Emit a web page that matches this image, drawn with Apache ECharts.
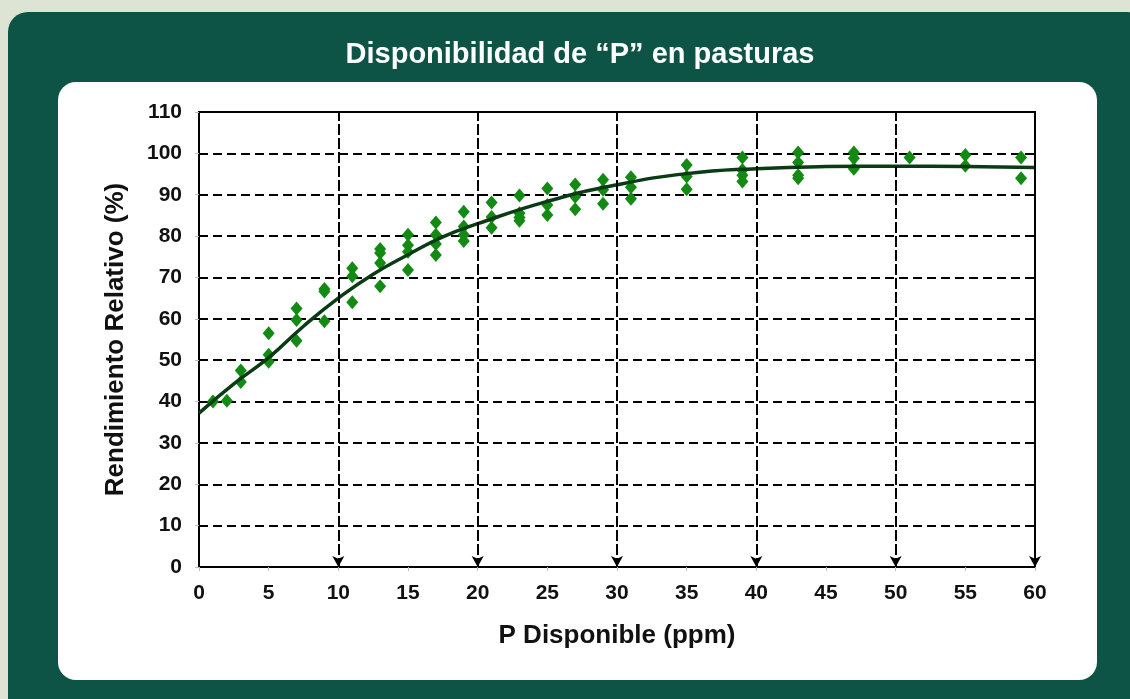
<!DOCTYPE html>
<html>
<head>
    <meta charset="utf-8" />
    <title>Disponibilidad de P</title>
    <script src="https://cdn.jsdelivr.net/npm/echarts@6/dist/echarts.min.js"></script>
    <style>
        body { margin: 0; background: #dde4d4; font-family: "Liberation Sans", Arial, sans-serif; }
        #panel { position: absolute; left: 8px; top: 12px; width: 1140px; height: 720px; background: #0d5446; border-radius: 20px; }
        #card { position: absolute; left: 58px; top: 82px; width: 1039px; height: 598px; background: #fff; border-radius: 18px; }
        #main { position: absolute; left: 0; top: 0; width: 1130px; height: 699px; }
    </style>
</head>
<body>
    <div id="panel"></div>
    <div id="card"></div>
    <div id="main"></div>

    <script type="text/javascript">
        // puntos medidos: P disponible (ppm) y rendimiento relativo (%)
        var puntosP = [
            1, 2, 3, 3, 5, 5, 5, 7, 7, 7, 9, 9, 9, 11, 11, 11,
            13, 13, 13, 13, 15, 15, 15, 15, 17, 17, 17, 17, 19, 19, 19, 19,
            21, 21, 21, 23, 23, 23, 23, 25, 25, 25, 27, 27, 27, 29, 29, 29,
            31, 31, 31, 35, 35, 35, 39, 39, 39, 39, 43, 43, 43, 43,
            47, 47, 47, 51, 55, 55, 59, 59
        ];
        var puntosRend = [
            40, 40.2, 47.5, 44.7, 56.5, 51.3, 49.6, 62.5, 59.7, 54.7, 67.2, 66.6, 59.4, 72.2, 70.3, 64,
            76.9, 75.9, 73.5, 67.9, 80.3, 77.8, 76.2, 71.8, 83.3, 80.3, 78.1, 75.4, 85.9, 82.3, 80.3, 78.8,
            88.1, 84.6, 82, 89.8, 85.5, 84.5, 83.7, 91.5, 87.5, 85.1, 92.5, 89.5, 86.5, 93.6, 91.2, 87.8,
            94.2, 91.8, 89, 97.2, 94.4, 91.3, 99, 96, 94.7, 93.2, 100.2, 97.8, 94.7, 94,
            100.2, 98.8, 96.3, 99, 99.6, 97, 99, 94
        ];

        // curva de ajuste
        var curvaP = [0, 2.5, 5, 7.5, 10, 12.5, 15, 17.5, 20, 25, 30, 35, 40, 45, 50, 55, 60];
        var curvaRend = [37.2, 44.3, 50.6, 58.2, 65, 70.8, 75.5, 79.8, 83, 88.4, 92.4, 95.1, 96.3, 96.8, 96.9, 96.8, 96.6];

        // lineas verticales con flecha abajo
        var flechasX = [10, 20, 30, 40, 50, 60];

        var ticksY = { min: 0, max: 110, interval: 10 };
        var ticksX = { min: 0, max: 60, interval: 5 };

        var myChart = echarts.init(document.getElementById('main'));

        var labelStyle = { color: '#111', fontWeight: 'bold', fontSize: 21, fontFamily: 'Liberation Sans' };
        var nameStyle = { color: '#111', fontWeight: 'bold', fontSize: 26, fontFamily: 'Liberation Sans' };
        var dashed = { color: '#000', width: 2, type: [9, 5] };

        var option = {
            animation: false,
            title: {
                text: 'Disponibilidad de \u201cP\u201d en pasturas',
                left: 575,
                textAlign: 'center',
                top: 35,
                textStyle: { color: '#fff', fontSize: 29, fontWeight: 'bold', fontFamily: 'Liberation Sans' }
            },
            grid: {
                left: 199, right: 95, top: 112, bottom: 132,
                show: true, borderColor: '#000', borderWidth: 2
            },
            xAxis: [
                {
                    type: 'value', min: ticksX.min, max: ticksX.max, interval: ticksX.interval,
                    name: 'P Disponible (ppm)', nameLocation: 'middle', nameGap: 56,
                    nameTextStyle: nameStyle,
                    axisLine: { lineStyle: { color: '#000', width: 2 } },
                    axisTick: { show: true, length: 4, lineStyle: { color: '#bbb' } },
                    axisLabel: Object.assign({ margin: 16 }, labelStyle),
                    splitLine: { show: false }
                },
                {
                    // solo para las lineas verticales cada 10
                    type: 'value', min: 0, max: 60, interval: 10, position: 'bottom',
                    axisLine: { show: false }, axisTick: { show: false }, axisLabel: { show: false },
                    splitLine: { show: true, lineStyle: dashed }
                }
            ],
            yAxis: {
                type: 'value', min: ticksY.min, max: ticksY.max, interval: ticksY.interval,
                name: 'Rendimiento Relativo (%)', nameLocation: 'middle', nameGap: 70,
                nameTextStyle: nameStyle,
                axisLine: { show: true, lineStyle: { color: '#000', width: 2 } },
                axisTick: { show: true, length: 4, lineStyle: { color: '#bbb' } },
                axisLabel: Object.assign({ margin: 17 }, labelStyle),
                splitLine: { show: true, lineStyle: dashed }
            },
            series: [
                {
                    type: 'scatter',
                    symbol: 'diamond',
                    symbolSize: [12, 14],
                    itemStyle: { color: '#138a13', opacity: 1 },
                    data: puntosP.map(function (p, i) { return [p, puntosRend[i]]; }),
                    z: 3
                },
                {
                    type: 'line',
                    smooth: true,
                    showSymbol: false,
                    lineStyle: { color: '#0b3b14', width: 3.5 },
                    data: curvaP.map(function (p, i) { return [p, curvaRend[i]]; }),
                    markLine: {
                        silent: true,
                        symbol: ['arrow', 'none'],
                        symbolSize: [9, 11],
                        label: { show: false },
                        lineStyle: { color: '#000', width: 2, type: [9, 5] },
                        data: flechasX.map(function (v) { return { xAxis: v }; })
                    },
                    z: 4
                }
            ]
        };

        myChart.setOption(option);
    </script>
</body>
</html>
